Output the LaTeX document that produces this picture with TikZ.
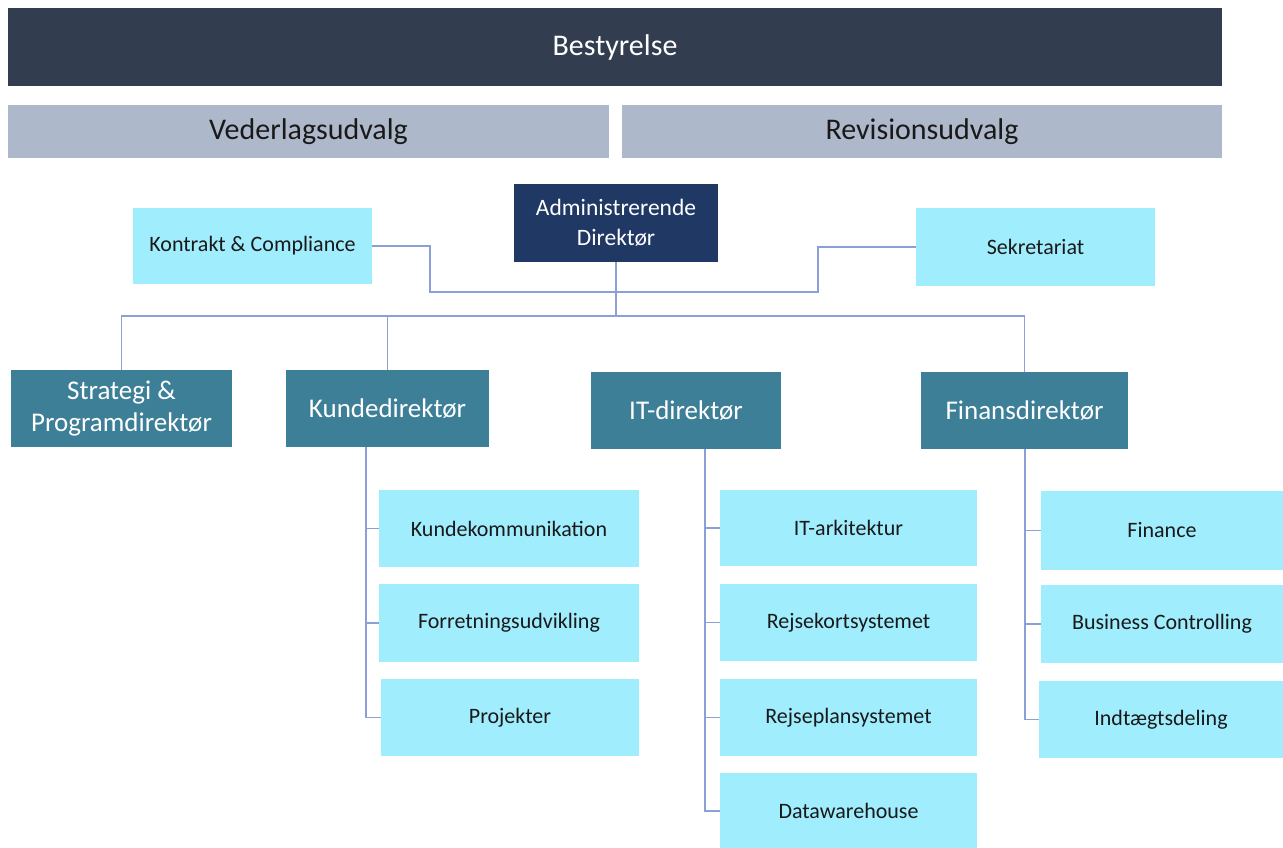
\documentclass[tikz,border=0pt]{standalone}
\usepackage{fontspec}
\setmainfont{Carlito}
\definecolor{topdark}{RGB}{50,61,79}
\definecolor{committee}{RGB}{173,185,202}
\definecolor{adblue}{RGB}{31,56,100}
\definecolor{lvltwo}{RGB}{62,127,152}
\definecolor{lightcy}{RGB}{160,237,253}
\definecolor{linecol}{RGB}{140,160,215}
\definecolor{txtdark}{RGB}{25,25,25}
\begin{document}
\begin{tikzpicture}[x=1pt,y=-1pt,
  boxbase/.style={rectangle, inner sep=0pt, align=center, draw=none},
  topbox/.style={boxbase, fill=topdark, text=white, font=\fontsize{30}{34}\selectfont},
  combox/.style={boxbase, fill=committee, text=txtdark, font=\fontsize{30}{34}\selectfont},
  adbox/.style={boxbase, fill=adblue, text=white, font=\fontsize{23.5}{30}\selectfont},
  dirbox/.style={boxbase, fill=lvltwo, text=white, font=\fontsize{27}{32}\selectfont},
  unitbox/.style={boxbase, fill=lightcy, text=txtdark, font=\fontsize{22}{26}\selectfont},
  conn/.style={draw=linecol, line width=1.4pt}
]
\useasboundingbox (0,0) rectangle (1283,847);
\fill[white] (0,0) rectangle (1283,847);

% Board and committees
\node[topbox, minimum width=1214, minimum height=78] (best) at (615,47) {Bestyrelse};
\node[combox, minimum width=601, minimum height=53] (ved) at (308.5,131.5) {Vederlagsudvalg};
\node[combox, minimum width=600, minimum height=53] (rev) at (922,131.5) {Revisionsudvalg};

% CEO and staff
\node[adbox, minimum width=204, minimum height=78] (ad) at (616,223) {Administrerende\\Direktør};
\node[unitbox, minimum width=239, minimum height=76] (kc) at (252.5,246) {Kontrakt \& Compliance};
\node[unitbox, minimum width=239, minimum height=78] (sek) at (1035.5,247) {Sekretariat};

% Directors
\node[dirbox, minimum width=221, minimum height=77] (sp) at (121.5,408.5) {Strategi \&\\Programdirektør};
\node[dirbox, minimum width=203, minimum height=77] (kd) at (387.5,408.5) {Kundedirektør};
\node[dirbox, minimum width=190, minimum height=77] (it) at (686,410.5) {IT-direktør};
\node[dirbox, minimum width=207, minimum height=77] (fd) at (1024.5,410.5) {Finansdirektør};

% Kunde units
\node[unitbox, minimum width=260, minimum height=77] (k1) at (509,528.5) {Kundekommunikation};
\node[unitbox, minimum width=260, minimum height=78] (k2) at (509,623) {Forretningsudvikling};
\node[unitbox, minimum width=258, minimum height=77] (k3) at (510,717.5) {Projekter};

% IT units
\node[unitbox, minimum width=257, minimum height=76] (i1) at (848.5,528) {IT-arkitektur};
\node[unitbox, minimum width=257, minimum height=77] (i2) at (848.5,622.5) {Rejsekortsystemet};
\node[unitbox, minimum width=257, minimum height=77] (i3) at (848.5,717.5) {Rejseplansystemet};
\node[unitbox, minimum width=257, minimum height=76] (i4) at (848.5,811) {Datawarehouse};

% Finance units
\node[unitbox, minimum width=242, minimum height=79] (f1) at (1162,530.5) {Finance};
\node[unitbox, minimum width=242, minimum height=78] (f2) at (1162,624) {Business Controlling};
\node[unitbox, minimum width=244, minimum height=77] (f3) at (1161,719.5) {Indtægtsdeling};

% Junction coordinates
\coordinate (j1) at (430,292);
\coordinate (j2) at (818,292);
\coordinate (bar) at (616,316);
\coordinate (kv) at (366,447);
\coordinate (iv) at (705,449);
\coordinate (fv) at (1025,449);

% Staff connector
\draw[conn] (kc.east) -| (j1) -- (j2) |- (sek.west);

% CEO to directors
\draw[conn] (ad.south) -- (bar);
\draw[conn] (sp.north) |- (bar -| fd.north) -- (fd.north);
\draw[conn] (kd.north) -- (kd.north |- bar);
\draw[conn] (it.north -| iv) -- (it.north -| iv |- bar);

% Kunde branch
\draw[conn] (kv) |- (k3.west);
\draw[conn] (kv |- k1.west) -- (k1.west);
\draw[conn] (kv |- k2.west) -- (k2.west);

% IT branch
\draw[conn] (iv) |- (i4.west);
\draw[conn] (iv |- i1.west) -- (i1.west);
\draw[conn] (iv |- i2.west) -- (i2.west);
\draw[conn] (iv |- i3.west) -- (i3.west);

% Finance branch
\draw[conn] (fv) |- (f3.west);
\draw[conn] (fv |- f1.west) -- (f1.west);
\draw[conn] (fv |- f2.west) -- (f2.west);
\end{tikzpicture}
\end{document}
